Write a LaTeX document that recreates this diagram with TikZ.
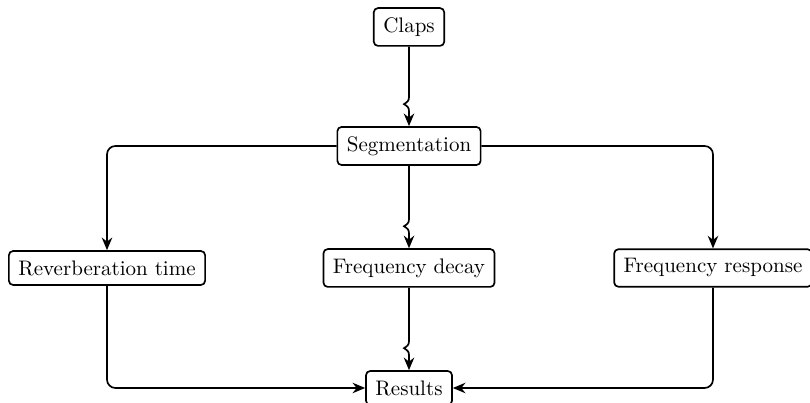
\documentclass[tikz,border=0pt]{standalone}
\usetikzlibrary{arrows.meta,calc}
\tikzset{
    block/.style={draw,thick,rounded corners=2pt,fill=white,inner sep=4.5pt},
    line/.style={draw,thick,-{Stealth[length=6pt,width=5pt]},rounded corners=4pt},
    kinked/.style={sharp corners,to path={-- ($(\tikztotarget)+(0,29)$)
        .. controls ($(\tikztotarget)+(0,25)$) and ($(\tikztotarget)+(-2,24)$) .. ($(\tikztotarget)+(-5,22)$)
        .. controls ($(\tikztotarget)+(-2,20)$) and ($(\tikztotarget)+(0,19)$) .. ($(\tikztotarget)+(0,15)$)
        -- (\tikztotarget) \tikztonodes}}
}
\begin{document}
\begin{tikzpicture}[x=0.01673cm,y=0.01673cm]
        \useasboundingbox (0,0) rectangle (810,403);
        \node[block] (claps) at (409,376) {Claps};
        \node[block] (seg) at (409,257) {Segmentation};
        \node[block] (rt) at (107,135) {Reverberation time};
        \node[block] (fd) at (409,135) {Frequency decay};
        \node[block] (fr) at (713,135) {Frequency response};
        \node[block] (res) at (409,15) {Results};
        \path[line] (claps) to[kinked] (seg.north);
        \path[line] (seg) -| (rt);
        \path[line] (seg) to[kinked] (fd.north);
        \path[line] (seg) -| (fr);
        \path[line] (rt) |- (res);
        \path[line] (fd) to[kinked] (res.north);
        \path[line] (fr) |- (res);
\end{tikzpicture}
\end{document}
